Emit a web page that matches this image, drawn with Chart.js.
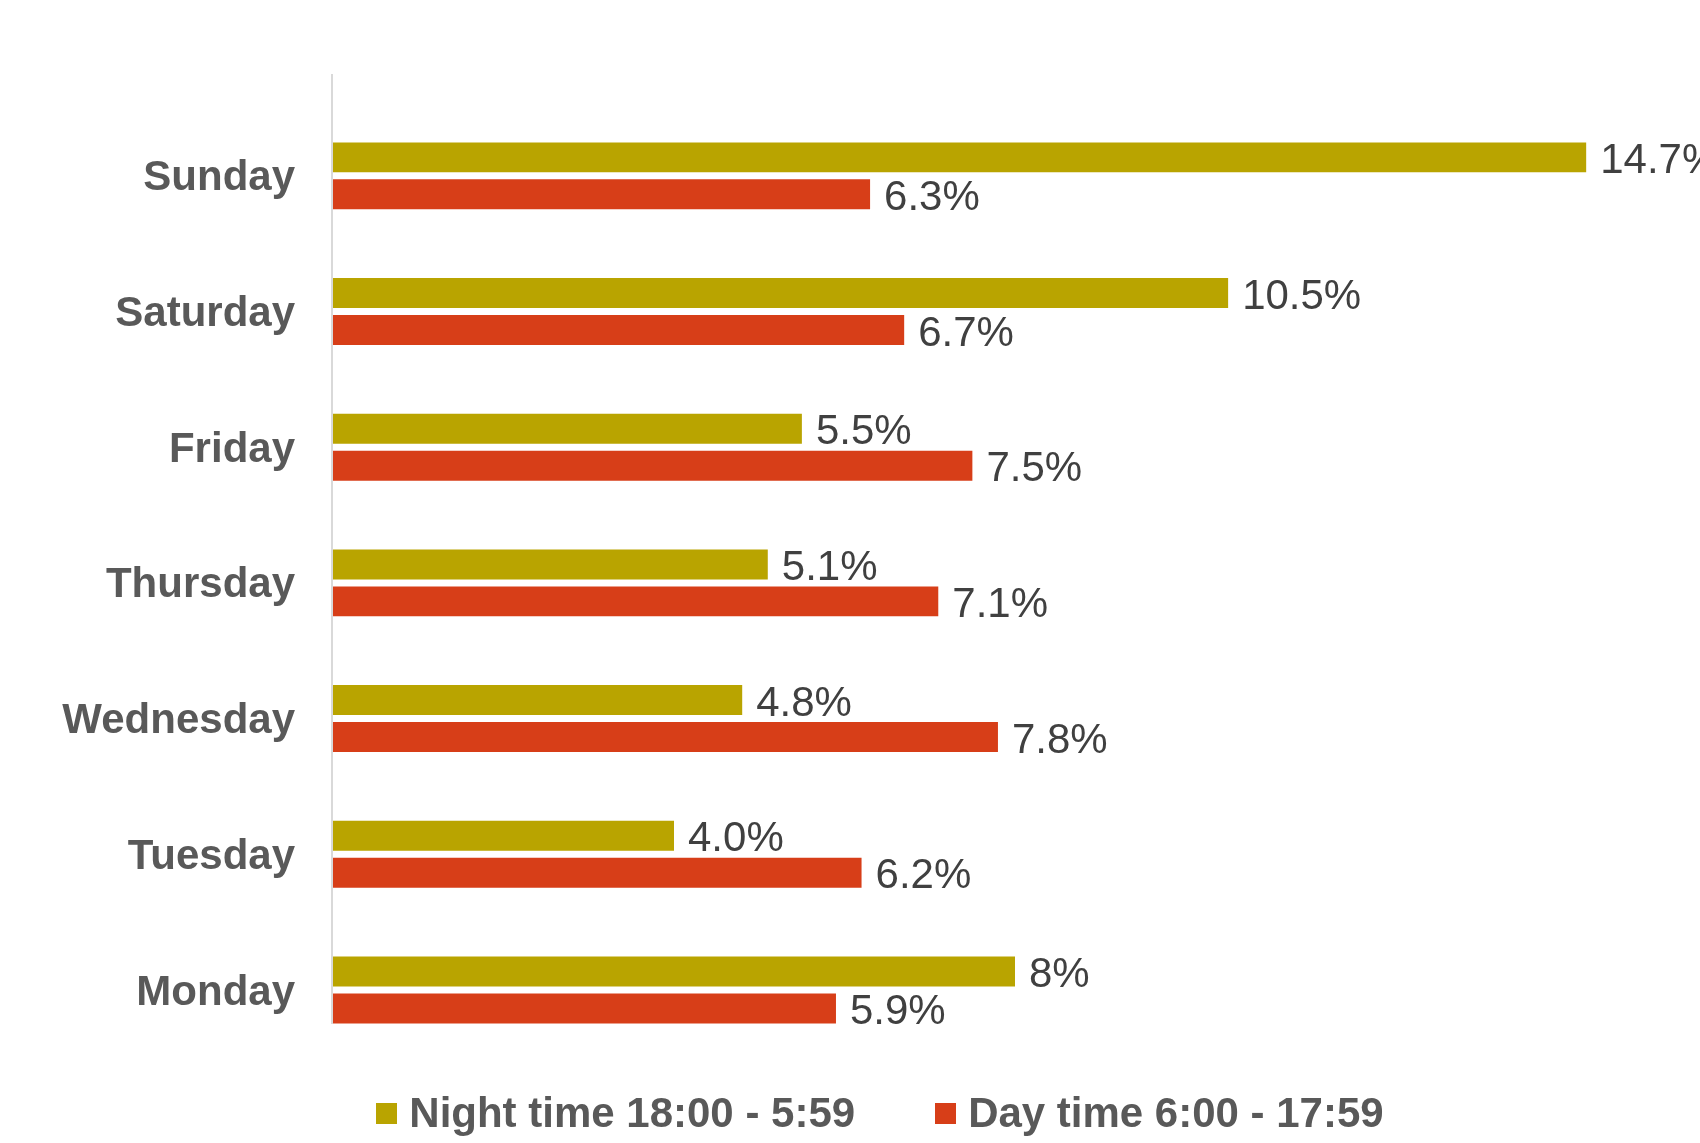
<!DOCTYPE html>
<html>
<head>
<meta charset="utf-8">
<script src="https://cdn.jsdelivr.net/npm/chart.js@4.4.1/dist/chart.umd.min.js"></script>
<style>
    body { margin: 0; background: #fff; font-family: "Liberation Sans", Arial, sans-serif; }
    #wrap { width: 1700px; height: 1121px; position: relative; }
    #legend {
        position: absolute; top: 1080px; left: 0;
        width: 1700px; height: 66px; box-sizing: border-box; padding-left: 60px;
        display: flex; align-items: center; justify-content: center;
    }
    .item { display: flex; align-items: center; font-weight: bold; font-size: 42px; color: #595959; }
    .item + .item { margin-left: 80px; }
    .swatch { width: 21px; height: 21px; margin-right: 12px; }
</style>
</head>
<body>
<div id="wrap"><canvas id="dayChart"></canvas></div>
<div id="legend"></div>
<script>
const days = ['Sunday', 'Saturday', 'Friday', 'Thursday', 'Wednesday', 'Tuesday', 'Monday'];
const nightValues = [14.7, 10.5, 5.5, 5.1, 4.8, 4.0, 8.0];
const dayValues = [6.3, 6.7, 7.5, 7.1, 7.8, 6.2, 5.9];
const nightLabels = ['14.7%', '10.5%', '5.5%', '5.1%', '4.8%', '4.0%', '8%'];
const dayLabels = ['6.3%', '6.7%', '7.5%', '7.1%', '7.8%', '6.2%', '5.9%'];
const seriesNames = ['Night time 18:00 - 5:59', 'Day time 6:00 - 17:59'];
const seriesColors = ['#b9a400', '#d73e18'];

const FONT = '"Liberation Sans", Arial, sans-serif';

// value labels at the end of each bar
const barLabels = {
    id: 'barLabels',
    afterDatasetsDraw(chart) {
        const ctx = chart.ctx;
        ctx.save();
        ctx.font = '42px ' + FONT;
        ctx.fillStyle = '#404040';
        ctx.textBaseline = 'middle';
        ctx.textAlign = 'left';
        chart.data.datasets.forEach((ds, i) => {
            chart.getDatasetMeta(i).data.forEach((bar, j) => {
                ctx.fillText(ds.valueLabels[j], bar.x + 14, bar.y + 4);
            });
        });
        ctx.restore();
    }
};

// thin vertical axis line, Excel style (shifted up a bit from the bands)
const axisLine = {
    id: 'axisLine',
    beforeDatasetsDraw(chart) {
        const x = chart.scales.x, y = chart.scales.y;
        const band = Math.abs(y.getPixelForValue(1) - y.getPixelForValue(0));
        const x0 = x.getPixelForValue(0) - 1;
        const ctx = chart.ctx;
        ctx.save();
        ctx.strokeStyle = '#d9d9d9';
        ctx.lineWidth = 2;
        ctx.beginPath();
        ctx.moveTo(x0, y.getPixelForValue(0) - band * 0.75);
        ctx.lineTo(x0, y.getPixelForValue(days.length - 1) + band * 0.25);
        ctx.stroke();
        ctx.restore();
    }
};

const ctx1 = document.getElementById('dayChart').getContext('2d');
new Chart(ctx1, {
    type: 'bar',
    data: {
        labels: days,
        datasets: [{
            label: seriesNames[0],
            data: nightValues,
            valueLabels: nightLabels,
            backgroundColor: seriesColors[0]
        }, {
            label: seriesNames[1],
            data: dayValues,
            valueLabels: dayLabels,
            backgroundColor: seriesColors[1]
        }]
    },
    options: {
        indexAxis: 'y',
        responsive: true,
        maintainAspectRatio: false,
        animation: false,
        categoryPercentage: 0.545,
        barPercentage: 0.81,
        layout: { padding: { top: 108, right: 3, bottom: 63, left: 0 } },
        scales: {
            x: {
                display: false,
                min: 0,
                max: 16
            },
            y: {
                grid: { display: false, drawTicks: false },
                border: { display: false },
                afterFit(scale) { scale.width = 333; },
                ticks: {
                    padding: 38,
                    labelOffset: 3,
                    color: '#595959',
                    font: { family: FONT, size: 42, weight: 'bold' }
                }
            }
        },
        plugins: {
            legend: { display: false },
            tooltip: { enabled: false }
        }
    },
    plugins: [axisLine, barLabels]
});

// legend row under the chart
const legend = document.getElementById('legend');
seriesNames.forEach((name, i) => {
    const item = document.createElement('div');
    item.className = 'item';
    item.innerHTML = '<span class="swatch" style="background:' + seriesColors[i] + '"></span>' + name;
    legend.appendChild(item);
});
</script>
</body>
</html>
